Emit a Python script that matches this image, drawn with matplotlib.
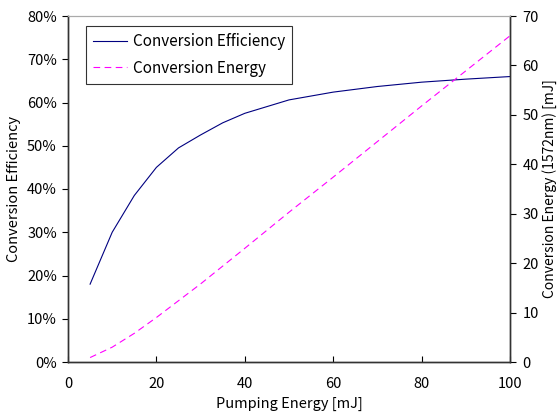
import matplotlib.pyplot as plt
from matplotlib.ticker import PercentFormatter

plt.rcParams['font.family'] = ['Noto Sans CJK JP', 'DejaVu Sans']

# Data
pumping = [5, 10, 15, 20, 25, 30, 35, 40, 50, 60, 70, 80, 90, 100]
efficiency = [18.0, 30.0, 38.5, 45.0, 49.5, 52.5, 55.3, 57.5, 60.6, 62.4, 63.7, 64.7, 65.4, 66.0]
energy = [0.9, 3.0, 5.8, 9.0, 12.4, 15.8, 19.4, 23.0, 30.3, 37.4, 44.6, 51.8, 58.9, 66.0]

fig = plt.figure(figsize=(5.6, 4.12), dpi=100)
ax = fig.add_axes([68 / 560, 50 / 412, 442 / 560, 346 / 412])
ax2 = ax.twinx()

l1, = ax.plot(pumping, efficiency, color='#000080', lw=0.8, label='Conversion Efficiency')
l2, = ax2.plot(pumping, energy, color='#ff00ff', lw=0.8, ls=(0, (6, 4)), label='Conversion Energy')

ax.set_xlim(0, 100)
ax.set_ylim(0, 80)
ax2.set_ylim(0, 70)
ax.set_xticks(range(0, 101, 20))
ax.set_yticks(range(0, 81, 10))
ax2.set_yticks(range(0, 71, 10))
ax.yaxis.set_major_formatter(PercentFormatter(decimals=0))

ax.tick_params(axis='x', direction='in', length=4, labelsize=10.5, pad=11)
ax.tick_params(axis='y', direction='out', length=4, labelsize=10.5, pad=4)
ax2.tick_params(axis='y', direction='out', length=4, labelsize=10.5, pad=5)

for a in (ax, ax2):
    a.spines['top'].set_color('#aaaaaa')
    for s in ('left', 'right', 'bottom'):
        a.spines[s].set_color('#333333')
        a.spines[s].set_linewidth(1.0)

ax.set_xlabel('Pumping Energy [mJ]', fontsize=10.5, labelpad=4)
ax.set_ylabel('Conversion Efficiency', fontsize=10.5, labelpad=4)
ax2.set_ylabel('Conversion Energy (1572nm) [mJ]', fontsize=10, labelpad=2)

leg = ax.legend(handles=[l1, l2], loc='upper left', bbox_to_anchor=(0.041, 0.971),
                borderaxespad=0, fontsize=11, frameon=True, fancybox=False,
                edgecolor='black', handlelength=2.2, handletextpad=0.4,
                borderpad=0.45, labelspacing=0.65)
leg.get_frame().set_linewidth(0.8)

fig.savefig('out.png', dpi=100)
